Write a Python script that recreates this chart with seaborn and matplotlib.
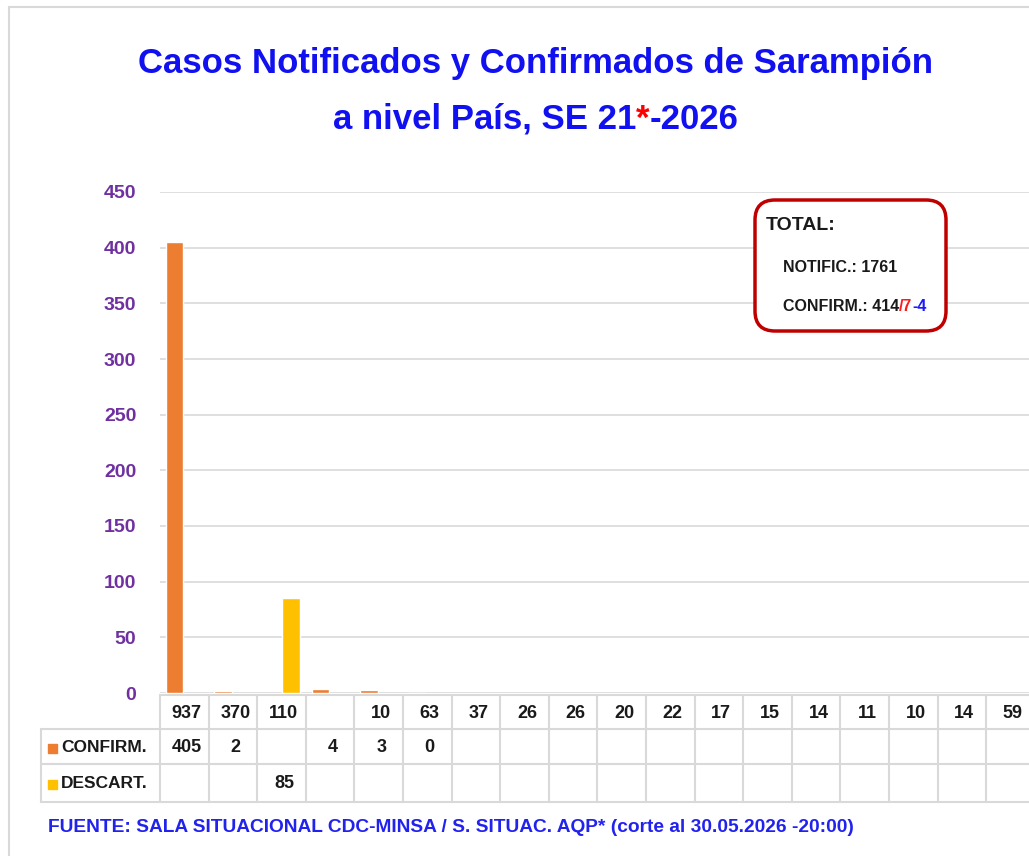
"""
Casos notificados y confirmados de sarampion a nivel pais, SE 21-2026.
Bar chart with a data table underneath (Excel style).
"""

import numpy as np
import pandas as pd
import matplotlib
matplotlib.use("Agg")
import matplotlib.pyplot as plt
import matplotlib.transforms as mtransforms
from matplotlib.lines import Line2D
from matplotlib.patches import FancyBboxPatch, Rectangle
from matplotlib.text import Annotation
import seaborn as sns

# ── Data ──────────────────────────────────────────────────────────────────────
notif_labels = ["937", "370", "110", "", "10", "63", "37", "26", "26",
                "20", "22", "17", "15", "14", "11", "10", "14", "59"]
confirm = [405, 2, np.nan, 4, 3, 0] + [np.nan] * 12
descart = [np.nan, np.nan, 85] + [np.nan] * 15
series_names = ["CONFIRM.", "DESCART."]
series_colors = ["#ED7D31", "#FFC000"]
y_ticks = list(range(0, 451, 50))

total_notif = 1761
total_confirm = ["414", "/7", "-4"]

W, H, DPI = 1029, 856, 100
FONT = ["Liberation Sans", "DejaVu Sans"]
BLUE = "#1010F0"
PURPLE = "#7030A0"
GRID = "#D9D9D9"
INK = "#1A1A1A"


def px(x, y):
    """pixel (from top-left) -> inches for fig.dpi_scale_trans"""
    return x / DPI, (H - y) / DPI


def chain_text(fig, first, pieces, **kw):
    """append coloured pieces right after a text artist"""
    prev = first
    for piece, color in pieces:
        a = Annotation(piece, xy=(1, 0), xycoords=prev, va="bottom", ha="left",
                       color=color, annotation_clip=False, **kw)
        a.set_zorder(10)
        fig.add_artist(a)
        prev = a


def main():
    sns.set_style("white")
    plt.rcParams["font.family"] = FONT

    n = len(notif_labels)
    df = pd.DataFrame({
        "col": list(range(n)) * 2,
        "serie": [series_names[0]] * n + [series_names[1]] * n,
        "valor": confirm + descart,
    })

    fig = plt.figure(figsize=(W / DPI, H / DPI), dpi=DPI)
    inch = fig.dpi_scale_trans

    # frame around the chart
    fig.add_artist(Rectangle(px(9, 1100), 1100 / DPI, (1100 - 7) / DPI,
                             transform=inch, fill=False, ec=GRID, lw=1.5))

    # plot area: 18 columns of ~48.6 px starting at x=160, y=0 at 693px
    col_w = 48.6
    left, bottom = 160, 693
    ax = fig.add_axes([left / W, 1 - bottom / H, n * col_w / W, (693 - 192) / H])

    sns.barplot(data=df, x="col", y="valor", hue="serie", hue_order=series_names,
                palette=series_colors, width=0.8, gap=0.1, ax=ax,
                legend=False, saturation=1)

    ax.set_xlim(-0.5, n - 0.5)
    ax.set_ylim(0, 450)
    ax.set_yticks(y_ticks)
    ax.set_yticklabels([str(t) for t in y_ticks], color=PURPLE,
                       fontweight="bold", fontsize=14)
    ax.tick_params(axis="y", length=0, pad=17)
    ax.set_xticks([])
    ax.set_xlabel("")
    ax.set_ylabel("")
    ax.yaxis.grid(True, color=GRID, lw=1.2)
    ax.set_axisbelow(True)
    for s in ax.spines.values():
        s.set_visible(False)

    # ── Data table ────────────────────────────────────────────────────────────
    bl = mtransforms.blended_transform_factory(ax.transData, inch)
    row_y = [695, 729, 764, 802]
    for i in range(n + 1):
        fig.add_artist(Line2D([i - 0.5, i - 0.5],
                              [px(0, row_y[0])[1], px(0, row_y[-1])[1]],
                              transform=bl, color=GRID, lw=1.5))
    x_end = left + n * col_w + 20
    fig.add_artist(Line2D([px(left, 0)[0], px(x_end, 0)[0]],
                          [px(0, row_y[0])[1]] * 2, transform=inch,
                          color=GRID, lw=1.5))
    for yy in row_y[1:]:
        fig.add_artist(Line2D([px(41, 0)[0], px(x_end, 0)[0]],
                              [px(0, yy)[1]] * 2, transform=inch,
                              color=GRID, lw=1.5))
    fig.add_artist(Line2D([px(41, 0)[0]] * 2,
                          [px(0, row_y[1])[1], px(0, row_y[-1])[1]],
                          transform=inch, color=GRID, lw=1.5))

    cell_kw = dict(transform=bl, ha="center", va="center", fontsize=13,
                   fontweight="bold", color=INK)
    for i, lab in enumerate(notif_labels):
        fig.text(i + 0.05, px(0, 713)[1], lab, **cell_kw)
    for row, vals in zip([748, 784], [confirm, descart]):
        for i, v in enumerate(vals):
            if not np.isnan(v):
                fig.text(i + 0.05, px(0, row)[1], f"{int(v)}", **cell_kw)

    for row, name, color in zip([748, 784], series_names, series_colors):
        fig.add_artist(Rectangle(px(48, row + 5), 9 / DPI, 9 / DPI,
                                 transform=inch, color=color))
        fig.text(*px(61, row), name, transform=inch, ha="left", va="center",
                 fontsize=12.5, fontweight="bold", color=INK)

    # ── Title ─────────────────────────────────────────────────────────────────
    fig.text(*px(536, 64), "Casos Notificados y Confirmados de Sarampión",
             transform=inch, ha="center", va="center", fontsize=25,
             fontweight="bold", color=BLUE)
    t = fig.text(*px(333, 129), "a nivel País, SE 21", transform=inch,
                 ha="left", va="baseline", fontsize=25, fontweight="bold",
                 color=BLUE)
    chain_text(fig, t, [("*", "red"), ("-2026", BLUE)],
               fontsize=25, fontweight="bold")

    # ── Totals box ────────────────────────────────────────────────────────────
    bx0, by0 = px(755, 331)
    box = FancyBboxPatch((bx0, by0), (946 - 755) / DPI, (331 - 200) / DPI,
                         boxstyle="round,pad=0,rounding_size=0.2",
                         transform=inch, fc="white", ec="#C00000", lw=2.5,
                         zorder=5)
    fig.add_artist(box)
    fig.text(*px(766, 226), "TOTAL:", transform=inch, ha="left", va="center",
             fontsize=14, fontweight="bold", color=INK, zorder=10)
    fig.text(*px(783, 267), f"NOTIFIC.: {total_notif}", transform=inch,
             ha="left", va="center", fontsize=11.5, fontweight="bold",
             color=INK, zorder=10)
    t = fig.text(*px(783, 311), f"CONFIRM.: {total_confirm[0]}", transform=inch,
                 ha="left", va="baseline", fontsize=11.5, fontweight="bold",
                 color=INK, zorder=10)
    chain_text(fig, t, zip(total_confirm[1:], ["#FF1A1A", "#1A1AFF"]),
               fontsize=11.5, fontweight="bold")

    # ── Source ────────────────────────────────────────────────────────────────
    fig.text(*px(48, 828),
             "FUENTE: SALA SITUACIONAL CDC-MINSA / S. SITUAC. AQP* "
             "(corte al 30.05.2026 -20:00)",
             transform=inch, ha="left", va="center", fontsize=13.8,
             fontweight="bold", color="#2222EE")

    fig.savefig("out.png", dpi=DPI)


if __name__ == "__main__":
    main()
